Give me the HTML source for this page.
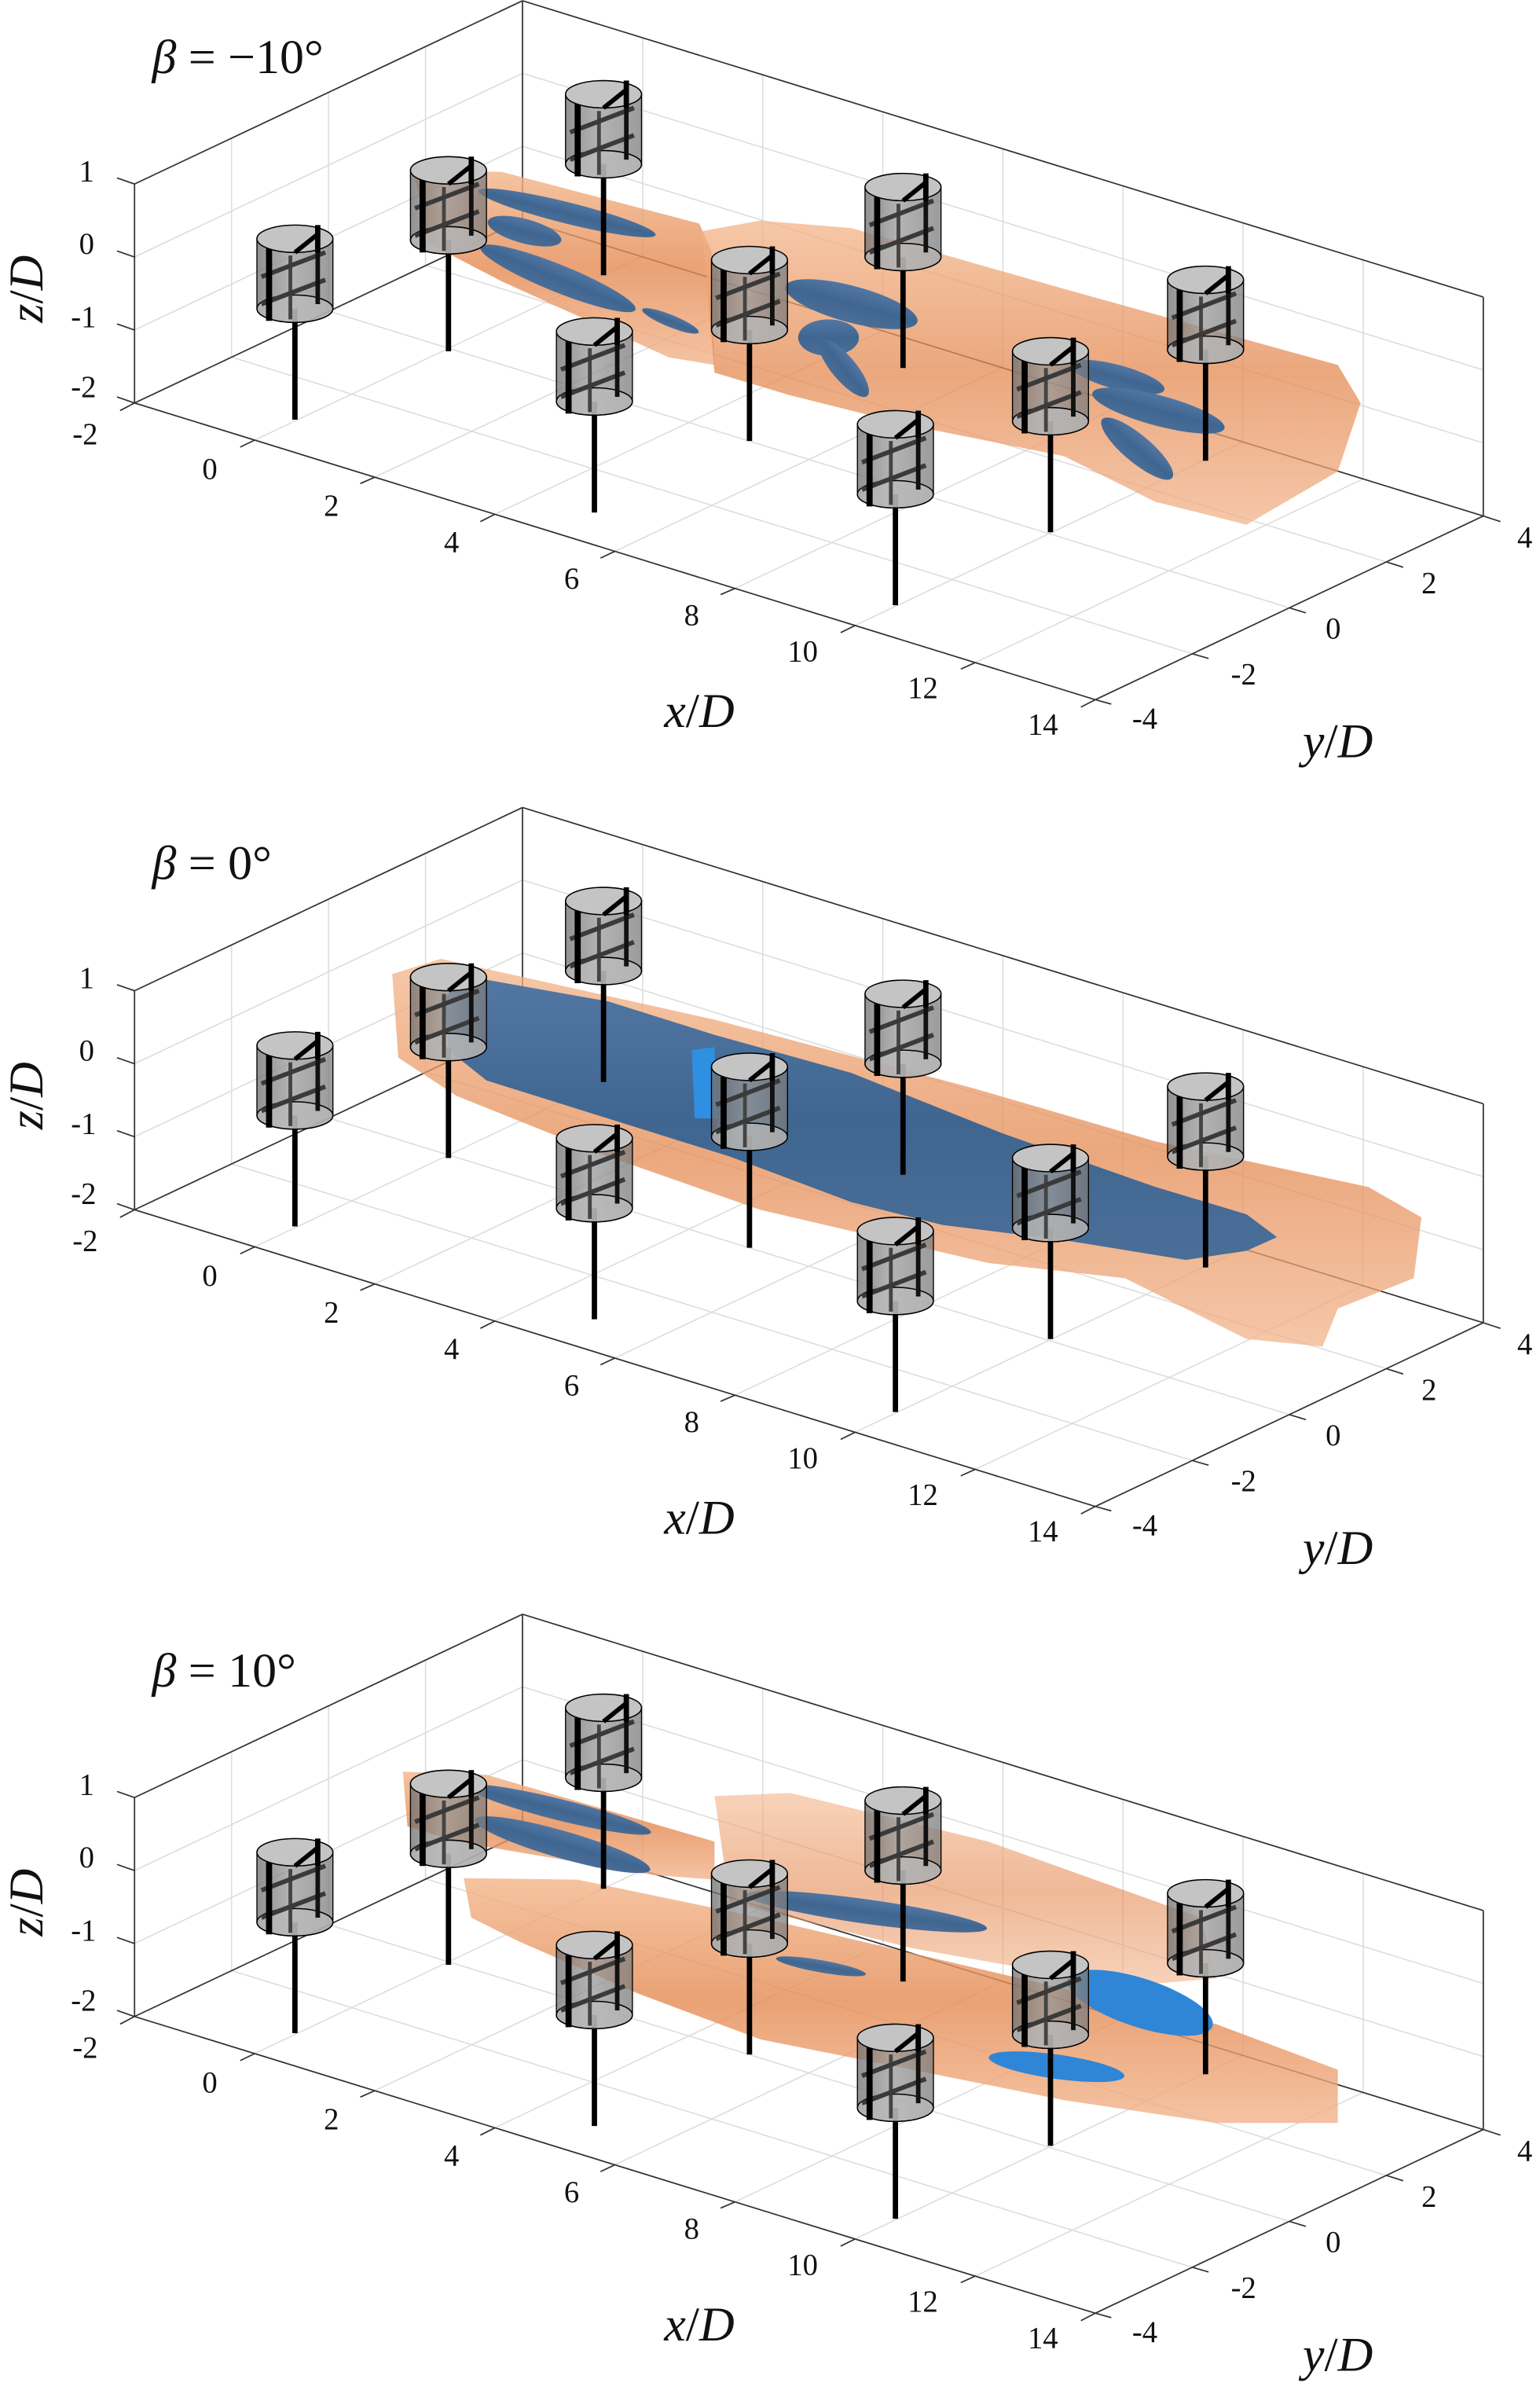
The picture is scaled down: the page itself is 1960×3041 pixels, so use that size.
<!DOCTYPE html>
<html><head><meta charset="utf-8"><style>
html,body{margin:0;padding:0;background:#fff}
svg{display:block}
text{font-family:"Liberation Serif",serif;fill:#111}
</style></head><body>
<svg width="1960" height="3041" viewBox="0 0 1013 1571.6" preserveAspectRatio="none" xmlns="http://www.w3.org/2000/svg">
<defs>
<linearGradient id="gb" x1="0" x2="1" y1="0" y2="0">
<stop offset="0" stop-color="#6e6e6e"/><stop offset="0.45" stop-color="#9a9a9a"/><stop offset="1" stop-color="#7a7a7a"/></linearGradient>
<linearGradient id="og" x1="0" x2="0" y1="0" y2="1">
<stop offset="0" stop-color="#f3b58a"/><stop offset="0.5" stop-color="#e48a52"/><stop offset="1" stop-color="#f2b48c"/></linearGradient>
<linearGradient id="bg" x1="0" x2="0" y1="0" y2="1">
<stop offset="0" stop-color="#5277a3"/><stop offset="0.5" stop-color="#3f6690"/><stop offset="1" stop-color="#4a6e98"/></linearGradient>
<g id="tb">
<line x1="0" y1="55" x2="0" y2="128" stroke="#000" stroke-width="3.5"/>
<path d="M-25,9 L-25,55 A25,9 0 0 0 25,55 L25,9 Z" fill="url(#gb)" fill-opacity="0.75" stroke="#000" stroke-width="0.7"/>
<ellipse cx="0" cy="55" rx="25" ry="9" fill="#bcbcbc" fill-opacity="0.7" stroke="#000" stroke-width="0.8"/>
<line x1="-3" y1="20" x2="-3" y2="62" stroke="#444" stroke-width="2.5"/>
<line x1="-22" y1="34" x2="20" y2="18" stroke="#3a3a3a" stroke-width="3"/>
<line x1="-22" y1="52" x2="20" y2="36" stroke="#3a3a3a" stroke-width="3"/>
<line x1="-17" y1="12" x2="-17" y2="63" stroke="#000" stroke-width="4"/>
<line x1="15" y1="3" x2="15" y2="52" stroke="#111" stroke-width="3"/>
<ellipse cx="0" cy="9" rx="25" ry="9" fill="#c4c4c4" stroke="#000" stroke-width="0.8"/>
<line x1="0" y1="18" x2="15" y2="6" stroke="#000" stroke-width="3"/>
<line x1="15" y1="0" x2="15" y2="18" stroke="#000" stroke-width="3.5"/>
</g>
<g id="turbs">
<use href="#tb" x="194" y="148"/>
<use href="#tb" x="295" y="103"/>
<use href="#tb" x="397" y="53"/>
<use href="#tb" x="391" y="209"/>
<use href="#tb" x="493" y="162"/>
<use href="#tb" x="594" y="114"/>
<use href="#tb" x="589" y="270"/>
<use href="#tb" x="691" y="222"/>
<use href="#tb" x="793" y="175"/>
</g>
<g id="ax">
<g stroke="#dcdcdc" stroke-width="0.8" fill="none">
<line x1="167.5" y1="289.4" x2="422.7" y2="168.6"/>
<line x1="246.5" y1="313.8" x2="501.7" y2="193"/>
<line x1="325.5" y1="338.2" x2="580.7" y2="217.4"/>
<line x1="404.5" y1="362.5" x2="659.7" y2="241.7"/>
<line x1="483.5" y1="386.9" x2="738.7" y2="266.1"/>
<line x1="562.5" y1="411.3" x2="817.7" y2="290.5"/>
<line x1="641.5" y1="435.7" x2="896.7" y2="314.9"/>
<line x1="152.3" y1="234.8" x2="784.3" y2="429.9"/>
<line x1="216.1" y1="204.6" x2="848.1" y2="399.7"/>
<line x1="279.9" y1="174.4" x2="911.9" y2="369.5"/>
<line x1="422.7" y1="168.6" x2="422.7" y2="24.6"/>
<line x1="501.7" y1="193" x2="501.7" y2="49"/>
<line x1="580.7" y1="217.4" x2="580.7" y2="73.4"/>
<line x1="659.7" y1="241.7" x2="659.7" y2="97.7"/>
<line x1="738.7" y1="266.1" x2="738.7" y2="122.1"/>
<line x1="817.7" y1="290.5" x2="817.7" y2="146.5"/>
<line x1="896.7" y1="314.9" x2="896.7" y2="170.9"/>
<line x1="343.7" y1="96.2" x2="975.7" y2="291.3"/>
<line x1="343.7" y1="48.2" x2="975.7" y2="243.3"/>
<line x1="152.3" y1="234.8" x2="152.3" y2="90.8"/>
<line x1="216.1" y1="204.6" x2="216.1" y2="60.6"/>
<line x1="279.9" y1="174.4" x2="279.9" y2="30.4"/>
<line x1="88.5" y1="217" x2="343.7" y2="96.2"/>
<line x1="88.5" y1="169" x2="343.7" y2="48.2"/>
</g>
<g stroke="#333" stroke-width="0.9" fill="none">
<line x1="88.5" y1="265" x2="88.5" y2="121"/>
<line x1="88.5" y1="121" x2="343.7" y2="0.5"/>
<line x1="343.7" y1="0.5" x2="343.7" y2="144.6"/>
<line x1="343.7" y1="0.5" x2="975.7" y2="195.3"/>
<line x1="975.7" y1="195.3" x2="975.7" y2="339.3"/>
<line x1="88.5" y1="265" x2="343.7" y2="144.6"/>
<line x1="343.7" y1="144.6" x2="975.7" y2="339.3"/>
<line x1="88.5" y1="265" x2="720.5" y2="460.1"/>
<line x1="720.5" y1="460.1" x2="975.7" y2="339.3"/>
<line x1="88.5" y1="121" x2="77" y2="117"/>
<line x1="88.5" y1="169" x2="77" y2="165"/>
<line x1="88.5" y1="217" x2="77" y2="213"/>
<line x1="88.5" y1="265" x2="77" y2="261"/>
<line x1="88.5" y1="265" x2="79" y2="270"/>
<line x1="167.5" y1="289.4" x2="158" y2="294"/>
<line x1="246.5" y1="313.8" x2="237" y2="318"/>
<line x1="325.5" y1="338.2" x2="316" y2="343"/>
<line x1="404.5" y1="362.5" x2="395" y2="367"/>
<line x1="483.5" y1="386.9" x2="474" y2="391"/>
<line x1="562.5" y1="411.3" x2="553" y2="416"/>
<line x1="641.5" y1="435.7" x2="632" y2="440"/>
<line x1="720.5" y1="460.1" x2="711" y2="465"/>
<line x1="720.5" y1="460.1" x2="731" y2="463"/>
<line x1="784.3" y1="429.9" x2="795" y2="433"/>
<line x1="848.1" y1="399.7" x2="859" y2="403"/>
<line x1="911.9" y1="369.5" x2="923" y2="373"/>
<line x1="975.7" y1="339.3" x2="987" y2="343"/>
</g>
<g font-size="20" text-anchor="middle">
<text x="57" y="119">1</text>
<text x="57" y="167">0</text>
<text x="55" y="215">-1</text>
<text x="55" y="261">-2</text>
<text x="56" y="292">-2</text>
<text x="138" y="315">0</text>
<text x="218" y="339">2</text>
<text x="297" y="363">4</text>
<text x="376" y="387">6</text>
<text x="455" y="411">8</text>
<text x="528" y="435">10</text>
<text x="607" y="459">12</text>
<text x="686" y="483">14</text>
<text x="753" y="479">-4</text>
<text x="818" y="450">-2</text>
<text x="877" y="420">0</text>
<text x="940" y="390">2</text>
<text x="1003" y="360">4</text>
</g>
<text x="460" y="478" font-size="32" text-anchor="middle"><tspan font-style="italic">x</tspan>/<tspan font-style="italic">D</tspan></text>
<text x="880" y="498" font-size="32" text-anchor="middle"><tspan font-style="italic">y</tspan>/<tspan font-style="italic">D</tspan></text>
<text transform="translate(28,190) rotate(-90)" font-size="32" text-anchor="middle"><tspan font-style="italic">z</tspan>/<tspan font-style="italic">D</tspan></text>
</g>
</defs>

<use href="#ax"/>
<g>
<path d="M272,112 L330,113 L460,147 L468,165 L470,240 L440,235 L330,185 L282,160 Z" fill="url(#og)" fill-opacity="0.8"/>
<path d="M462,152 L500,145 L560,150 L700,190 L880,240 L895,265 L880,310 L820,345 L760,330 L700,300 L600,280 L520,260 L470,245 Z" fill="url(#og)" fill-opacity="0.75"/>
<g fill="url(#bg)">
<ellipse cx="373" cy="140" rx="60" ry="7" transform="rotate(14 373 140)"/>
<ellipse cx="345" cy="152" rx="25" ry="8" transform="rotate(15 345 152)"/>
<ellipse cx="367" cy="183" rx="55" ry="9" transform="rotate(22 367 183)"/>
<ellipse cx="441" cy="211" rx="20" ry="4" transform="rotate(22 441 211)"/>
<ellipse cx="560" cy="200" rx="45" ry="12" transform="rotate(15 560 200)"/>
<ellipse cx="545" cy="222" rx="20" ry="12"/>
<ellipse cx="555" cy="242" rx="24" ry="8" transform="rotate(50 555 242)"/>
<ellipse cx="735" cy="248" rx="32" ry="8" transform="rotate(15 735 248)"/>
<ellipse cx="762" cy="270" rx="45" ry="10" transform="rotate(15 762 270)"/>
<ellipse cx="748" cy="295" rx="30" ry="9" transform="rotate(40 748 295)"/>
</g>
</g>
<use href="#turbs"/>
<text x="100" y="48" font-size="32"><tspan font-style="italic">β</tspan> = −10°</text>

<use href="#ax" y="530.5"/>
<g transform="translate(0,530.5)">
<path d="M258,110 L290,100 L470,140 L640,185 L760,220 L900,250 L935,270 L930,310 L880,330 L870,355 L820,350 L740,310 L650,300 L500,265 L400,230 L300,190 L262,165 Z" fill="url(#og)" fill-opacity="0.75"/>
<path d="M292,125 L310,112 L400,128 L470,150 L560,175 L660,215 L760,250 L820,268 L840,283 L820,292 L780,298 L700,285 L620,275 L560,260 L480,230 L400,205 L320,180 L295,160 Z" fill="url(#bg)"/>
<path d="M455,160 L470,158 L472,205 L457,205 Z" fill="#2f8fe0"/>
</g>
<use href="#turbs" y="530.5"/>
<text x="100" y="578" font-size="32"><tspan font-style="italic">β</tspan> = 0°</text>

<use href="#ax" y="1061"/>
<g transform="translate(0,1061)">
<path d="M265,104 L320,106 L470,150 L470,175 L430,172 L300,150 L268,140 Z" fill="url(#og)" fill-opacity="0.8"/>
<path d="M470,120 L520,118 L650,150 L790,200 L800,240 L740,245 L600,220 L480,190 Z" fill="url(#og)" fill-opacity="0.6"/>
<path d="M305,174 L380,175 L500,200 L650,235 L800,270 L880,300 L880,335 L800,335 L700,320 L600,300 L500,280 L420,250 L340,215 L310,200 Z" fill="url(#og)" fill-opacity="0.8"/>
<g fill="url(#bg)">
<ellipse cx="368" cy="129" rx="62" ry="7" transform="rotate(14 368 129)"/>
<ellipse cx="370" cy="152" rx="60" ry="9" transform="rotate(16 370 152)"/>
<ellipse cx="570" cy="196" rx="80" ry="8" transform="rotate(8 570 196)"/>
<ellipse cx="540" cy="232" rx="30" ry="4" transform="rotate(10 540 232)"/>
</g>
<ellipse cx="750" cy="256" rx="50" ry="16" transform="rotate(18 750 256)" fill="#2f86d6"/>
<ellipse cx="695" cy="298" rx="45" ry="8" transform="rotate(8 695 298)" fill="#2f86d6"/>
</g>
<use href="#turbs" y="1061"/>
<text x="100" y="1109" font-size="32"><tspan font-style="italic">β</tspan> = 10°</text>
</svg>
</body></html>
